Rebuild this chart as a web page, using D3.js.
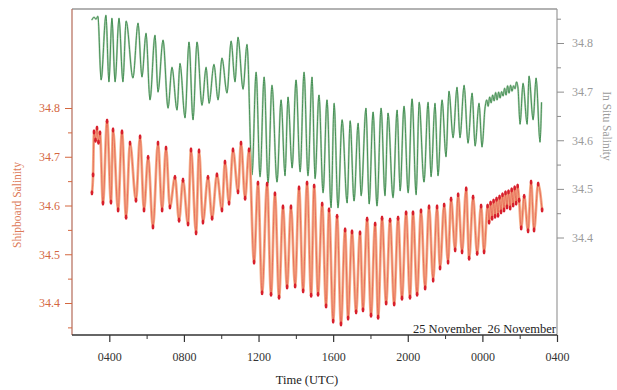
<!DOCTYPE html>
<html><head><meta charset="utf-8">
<script src="https://cdn.jsdelivr.net/npm/d3@7"></script>
<style>
html,body{margin:0;padding:0;background:#fff;}
svg{display:block;font-family:"Liberation Serif","DejaVu Serif",serif;}
</style></head>
<body><svg id="c" width="617" height="390"></svg>
<script>
// ---- data (hours since 0000 UTC 25 November) ----
const xTickValues = [4, 8, 12, 16, 20, 24, 28];
const xTickLabels = ["0400", "0800", "1200", "1600", "2000", "0000", "0400"];
const xMinorTicks = [6, 10, 14, 18, 22, 26];
const leftTicks = [34.4, 34.5, 34.6, 34.7, 34.8];
const leftMinor = [34.35, 34.45, 34.55, 34.65, 34.75];
const rightTicks = [34.4, 34.5, 34.6, 34.7, 34.8];
const rightMinor = [34.45, 34.55, 34.65, 34.75, 34.85];
const dayLabels = ["25 November", "26 November"];

const inSituTime = [3.06,3.18,3.29,3.39,3.56,3.82,3.98,4.14,4.31,4.52,4.73,4.90,5.27,5.54,5.75,5.97,6.18,6.45,6.61,6.88,7.15,7.36,7.63,7.79,8.06,8.27,8.49,8.70,8.97,9.19,9.35,9.61,9.83,10.04,10.31,10.53,10.74,10.90,11.17,11.38,11.65,11.87,12.08,12.30,12.51,12.72,12.99,13.21,13.42,13.58,13.80,14.01,14.23,14.44,14.65,14.87,15.03,15.24,15.46,15.67,15.89,16.05,16.26,16.48,16.75,16.91,17.12,17.34,17.50,17.76,17.93,18.14,18.35,18.57,18.78,18.94,19.21,19.43,19.59,19.80,20.02,20.23,20.45,20.61,20.87,21.09,21.25,21.46,21.62,21.84,22.05,22.21,22.43,22.64,22.80,23.02,23.23,23.45,23.61,23.82,23.98,24.14,24.23,24.31,24.39,24.47,24.55,24.63,24.71,24.79,24.87,24.95,25.03,25.11,25.19,25.27,25.35,25.43,25.51,25.59,25.67,25.75,25.83,25.91,26.02,26.18,26.40,26.50,26.72,26.88,27.09,27.17];
const inSituSal = [34.847,34.853,34.849,34.855,34.724,34.857,34.720,34.851,34.720,34.851,34.720,34.845,34.728,34.841,34.730,34.820,34.683,34.816,34.699,34.806,34.666,34.750,34.662,34.758,34.646,34.802,34.642,34.802,34.672,34.750,34.676,34.756,34.683,34.769,34.697,34.804,34.720,34.812,34.705,34.797,34.529,34.740,34.525,34.730,34.512,34.713,34.514,34.683,34.527,34.689,34.543,34.724,34.535,34.740,34.527,34.730,34.521,34.693,34.492,34.683,34.461,34.676,34.461,34.642,34.471,34.640,34.475,34.635,34.486,34.666,34.469,34.658,34.465,34.666,34.486,34.656,34.482,34.662,34.496,34.670,34.492,34.685,34.488,34.678,34.514,34.678,34.525,34.676,34.527,34.683,34.566,34.701,34.605,34.709,34.605,34.713,34.594,34.697,34.588,34.676,34.586,34.666,34.683,34.670,34.689,34.677,34.693,34.681,34.698,34.683,34.699,34.687,34.700,34.691,34.707,34.693,34.712,34.697,34.713,34.701,34.712,34.706,34.720,34.707,34.633,34.717,34.633,34.732,34.642,34.728,34.596,34.678];

const shipTime = [3.07,3.13,3.18,3.26,3.34,3.42,3.50,3.66,3.88,4.09,4.20,4.47,4.68,4.90,5.11,5.43,5.65,5.86,6.08,6.34,6.61,6.83,7.04,7.25,7.52,7.74,7.95,8.22,8.38,8.65,8.81,9.02,9.29,9.51,9.77,10.04,10.20,10.42,10.63,10.90,11.06,11.28,11.49,11.76,11.97,12.19,12.46,12.67,12.88,13.10,13.31,13.53,13.74,13.96,14.17,14.39,14.60,14.82,14.98,15.19,15.41,15.62,15.78,16.00,16.21,16.42,16.64,16.80,17.01,17.23,17.44,17.60,17.82,18.03,18.25,18.41,18.62,18.84,19.05,19.27,19.48,19.69,19.91,20.12,20.28,20.50,20.71,20.93,21.14,21.36,21.57,21.73,21.95,22.16,22.32,22.54,22.70,22.91,23.13,23.29,23.50,23.72,23.93,24.09,24.28,24.36,24.44,24.52,24.60,24.68,24.76,24.84,24.92,25.00,25.08,25.16,25.24,25.32,25.40,25.49,25.57,25.65,25.73,25.81,25.89,25.97,26.08,26.24,26.45,26.61,26.77,26.99,27.20];
const shipSal = [34.626,34.663,34.751,34.734,34.759,34.730,34.749,34.605,34.773,34.607,34.755,34.591,34.751,34.576,34.728,34.611,34.741,34.591,34.699,34.556,34.728,34.591,34.718,34.597,34.658,34.570,34.652,34.562,34.714,34.544,34.712,34.566,34.658,34.574,34.663,34.591,34.689,34.605,34.714,34.628,34.728,34.615,34.714,34.484,34.646,34.421,34.644,34.418,34.624,34.412,34.597,34.433,34.597,34.435,34.636,34.425,34.646,34.416,34.640,34.418,34.603,34.394,34.591,34.363,34.578,34.357,34.550,34.369,34.546,34.382,34.544,34.386,34.572,34.375,34.562,34.371,34.574,34.400,34.570,34.398,34.574,34.410,34.585,34.412,34.585,34.418,34.589,34.431,34.597,34.447,34.597,34.472,34.601,34.484,34.613,34.509,34.622,34.505,34.634,34.492,34.617,34.502,34.599,34.505,34.599,34.566,34.605,34.574,34.609,34.578,34.613,34.580,34.617,34.587,34.622,34.591,34.626,34.597,34.628,34.595,34.632,34.601,34.636,34.605,34.640,34.611,34.554,34.619,34.548,34.648,34.550,34.644,34.591];

// ---- layout ----
const L = 72, R = 557, T = 9, B = 335;
const svg = d3.select("#c");
const x = d3.scaleLinear().domain([2, 28]).range([L, R]);
const yL = d3.scaleLinear().domain([34.8, 34.4]).range([108, 303]);
const yR = d3.scaleLinear().domain([34.8, 34.4]).range([43, 237.5]);

const leftCol = "#d4673f", rightCol = "#8e8e8e";

// frame top
svg.append("line").attr("x1", L).attr("x2", R).attr("y1", T).attr("y2", T)
  .attr("stroke", "#666").attr("stroke-width", 1.2);

// left axis
const gL = svg.append("g").attr("transform", `translate(${L},0)`);
gL.append("line").attr("y1", T).attr("y2", B).attr("stroke", "#b46a58").attr("stroke-width", 1.2);
{
  const sub = gL.append("g").call(d3.axisLeft(yL).tickValues(leftTicks).tickSize(7).tickPadding(5).tickFormat(d3.format(".1f")));
  sub.select(".domain").remove();
  sub.selectAll("line").attr("stroke", leftCol);
  sub.selectAll("text").attr("fill", leftCol).attr("font-size", 12).attr("font-family", "Liberation Serif");
  const mn = gL.append("g").call(d3.axisLeft(yL).tickValues(leftMinor).tickSize(4).tickFormat(""));
  mn.select(".domain").remove();
  mn.selectAll("line").attr("stroke", leftCol);
}

// right axis
const gR = svg.append("g").attr("transform", `translate(${R},0)`);
gR.append("line").attr("y1", T).attr("y2", B).attr("stroke", "#9a9a9a").attr("stroke-width", 1.2);
{
  const sub = gR.append("g").call(d3.axisRight(yR).tickValues(rightTicks).tickSize(7).tickPadding(8).tickFormat(d3.format(".1f")));
  sub.select(".domain").remove();
  sub.selectAll("line").attr("stroke", rightCol);
  sub.selectAll("text").attr("fill", "#9a9a9a").attr("font-size", 12).attr("font-family", "Liberation Serif");
  const mn = gR.append("g").call(d3.axisRight(yR).tickValues(rightMinor).tickSize(4).tickFormat(""));
  mn.select(".domain").remove();
  mn.selectAll("line").attr("stroke", rightCol);
}

// bottom axis
const gB = svg.append("g").attr("transform", `translate(0,${B})`);
gB.append("line").attr("x1", L).attr("x2", R).attr("stroke", "#333").attr("stroke-width", 1.3);
{
  const sub = gB.append("g").call(d3.axisBottom(x).tickValues(xTickValues).tickSize(7).tickPadding(10)
    .tickFormat((d, i) => xTickLabels[i]));
  sub.select(".domain").remove();
  sub.selectAll("line").attr("stroke", "#333").attr("stroke-width", 1.2);
  sub.selectAll("text").attr("fill", "#333").attr("font-size", 12).attr("font-family", "Liberation Serif");
  const mn = gB.append("g").call(d3.axisBottom(x).tickValues(xMinorTicks).tickSize(4).tickFormat(""));
  mn.select(".domain").remove();
  mn.selectAll("line").attr("stroke", "#333");
}

// day labels
svg.append("text").attr("x", x(24) - 1).attr("y", B - 2.5).attr("text-anchor", "end")
  .attr("font-size", 12.5).attr("fill", "#222").text(dayLabels[0]);
svg.append("text").attr("x", R - 1).attr("y", B - 2.5).attr("text-anchor", "end")
  .attr("font-size", 12.5).attr("fill", "#222").text(dayLabels[1]);

// titles
svg.append("text").attr("transform", `translate(21,205) rotate(-90)`).attr("text-anchor", "middle")
  .attr("font-size", 11.5).attr("fill", "#dd7a58").text("Shipboard Salinity");
svg.append("text").attr("transform", `translate(603,126) rotate(90)`).attr("text-anchor", "middle")
  .attr("font-size", 11.5).attr("fill", "#9a9a9a").text("In Situ Salinity");
svg.append("text").attr("x", 307).attr("y", 384).attr("text-anchor", "middle")
  .attr("font-size", 12.5).attr("fill", "#222").text("Time (UTC)");

// series
const inSitu = inSituTime.map((t, i) => [t, inSituSal[i]]);
const ship = shipTime.map((t, i) => [t, shipSal[i]]);

const lineR = d3.line().x(d => x(d[0])).y(d => yR(d[1])).curve(d3.curveMonotoneX);
const lineL = d3.line().x(d => x(d[0])).y(d => yL(d[1])).curve(d3.curveMonotoneX);

svg.append("path").datum(inSitu).attr("d", lineR).attr("fill", "none")
  .attr("stroke", "#b3d1b6").attr("stroke-width", 2.0);
svg.append("path").datum(inSitu).attr("d", lineR).attr("fill", "none")
  .attr("stroke", "#3b8a4c").attr("stroke-width", 0.9);

svg.append("path").datum(ship).attr("d", lineL).attr("fill", "none")
  .attr("stroke", "#f4b08a").attr("stroke-width", 2.8);
svg.append("path").datum(ship).attr("d", lineL).attr("fill", "none")
  .attr("stroke", "#e0433a").attr("stroke-width", 0.8).attr("opacity", 0.75);
svg.append("g").selectAll("ellipse").data(ship).join("ellipse")
  .attr("cx", d => x(d[0])).attr("cy", d => yL(d[1])).attr("rx", 1.4).attr("ry", 2.6).attr("fill", "#d81f2c");
</script></body></html>
